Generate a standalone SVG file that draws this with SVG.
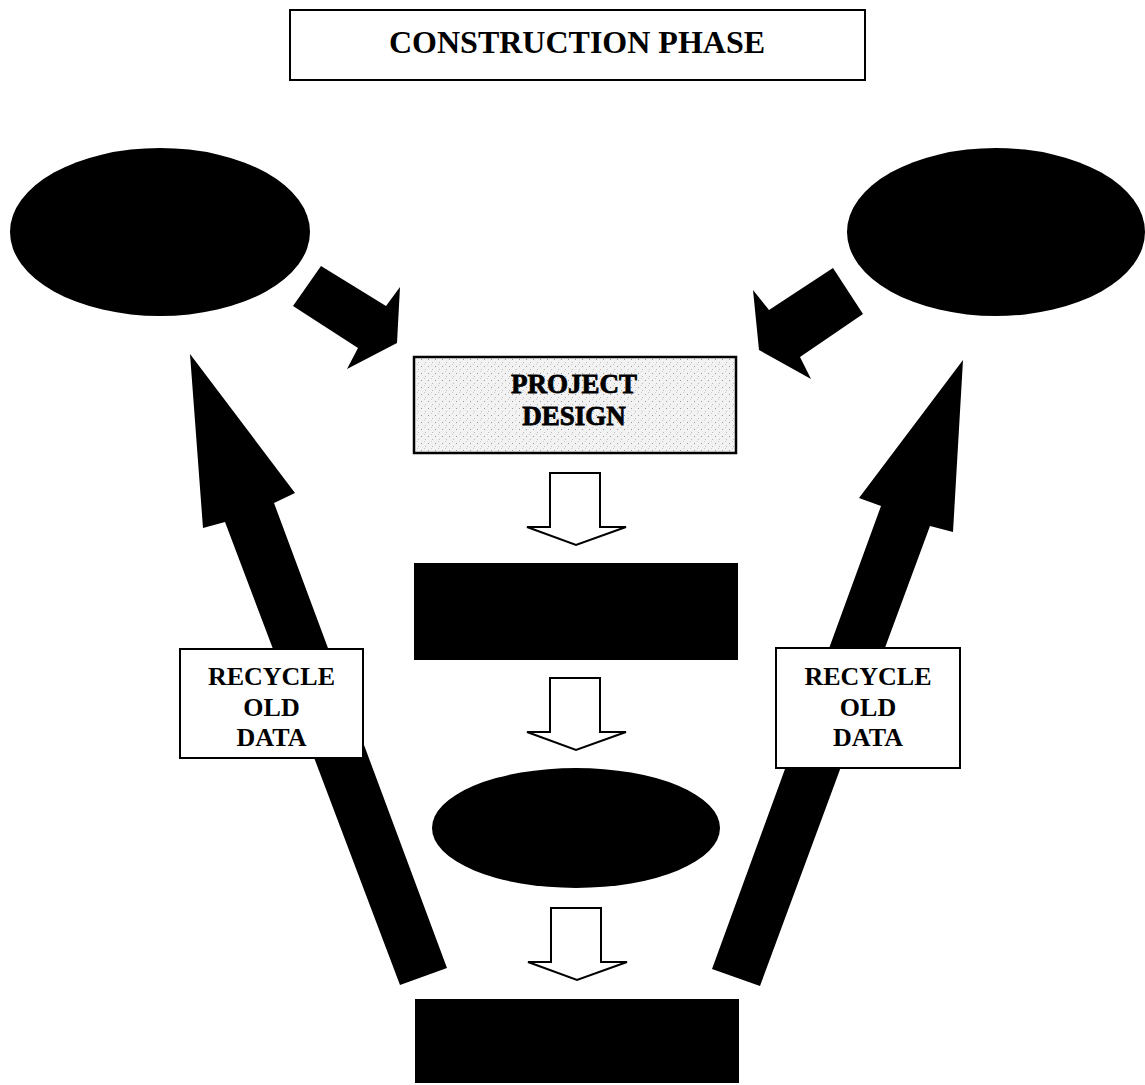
<svg xmlns="http://www.w3.org/2000/svg" width="1145" height="1085" viewBox="0 0 1145 1085">
<style>
.box{fill:#fff;stroke:#000;stroke-width:2}
.blk{fill:#000}
.hollow{fill:#fff;stroke:#000;stroke-width:2;stroke-linejoin:miter}
.t{font-family:"Liberation Serif","Times New Roman",serif;font-weight:bold;fill:#000;text-anchor:middle}
</style>
<defs>
  <pattern id="stipple" width="7" height="7" patternUnits="userSpaceOnUse">
    <rect width="7" height="7" fill="#f2f2f2"/>
    <rect x="1" y="2" width="1" height="1" fill="#999"/>
    <rect x="5" y="5" width="1" height="1" fill="#bbb"/>
    <rect x="4" y="0" width="1" height="1" fill="#ccc"/>
  </pattern>
</defs>
<rect width="1145" height="1085" fill="#fff"/>
<g id="connectors">
  <polygon class="blk" points="321,266 386,306 400,287 397,343 347,369 358,348 293,306"/>
  <polygon class="blk" points="833,268 863,314 800,357 811,379 759,350 753,290 769,310"/>
  <polygon class="blk" points="190,354 295,493 274,503 447,968 400,985 225,522 203,528"/>
  <polygon class="blk" points="963,360 953,532 930,526 760,986 712,969 881,506 859,498"/>
  <polygon class="hollow" points="550,473 600,473 600,527 626,527 576,545 527,527 550,527"/>
  <polygon class="hollow" points="550,678 600,678 600,732 626,732 576,750 527,732 550,732"/>
  <polygon class="hollow" points="551,908 601,908 601,962 627,962 577,980 528,962 551,962"/>
</g>
<g id="title">
  <rect class="box" x="290" y="10" width="575" height="70"/>
  <text class="t" x="577" y="53" font-size="32">CONSTRUCTION PHASE</text>
</g>
<g id="ellipse-left"><ellipse class="blk" cx="160" cy="232" rx="150" ry="84"/></g>
<g id="ellipse-right"><ellipse class="blk" cx="996" cy="232" rx="149" ry="84"/></g>
<g id="project-design">
  <rect x="414" y="357" width="322" height="96" fill="url(#stipple)" stroke="#000" stroke-width="2.5"/>
  <text class="t" x="574" y="393" font-size="27" stroke="#000" stroke-width="0.8">PROJECT</text>
  <text class="t" x="574" y="425" font-size="27" stroke="#000" stroke-width="0.8">DESIGN</text>
</g>
<g id="box-2"><rect class="blk" x="414" y="563" width="324" height="97"/></g>
<g id="ellipse-middle"><ellipse class="blk" cx="576" cy="828" rx="144" ry="60"/></g>
<g id="box-bottom"><rect class="blk" x="415" y="999" width="324" height="84"/></g>
<g id="recycle-left">
  <rect class="box" x="180" y="649" width="183" height="109"/>
  <text class="t" x="271.5" y="685" font-size="26">RECYCLE</text>
  <text class="t" x="271.5" y="716" font-size="26">OLD</text>
  <text class="t" x="271.5" y="746" font-size="26">DATA</text>
</g>
<g id="recycle-right">
  <rect class="box" x="776" y="648" width="184" height="120"/>
  <text class="t" x="868" y="685" font-size="26">RECYCLE</text>
  <text class="t" x="868" y="716" font-size="26">OLD</text>
  <text class="t" x="868" y="746" font-size="26">DATA</text>
</g>
</svg>
